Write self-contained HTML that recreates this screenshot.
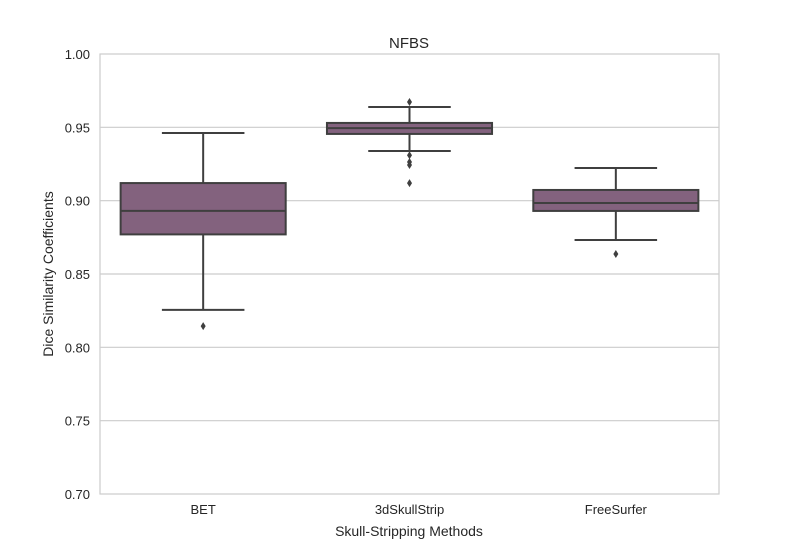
<!DOCTYPE html>
<html><head><meta charset="utf-8"><style>
body{margin:0;background:#fff;}
svg text{font-family:"Liberation Sans",sans-serif;fill:#262626;}
</style></head><body>
<svg id="chart" width="800" height="550">
<rect x="100" y="54" width="619" height="440" fill="#fff" stroke="#cccccc" stroke-width="1.2"/>
<g id="grid"></g>
<g id="boxes"></g>
<text x="409" y="48" font-size="15" text-anchor="middle">NFBS</text>
<text x="409" y="536" font-size="14" text-anchor="middle">Skull-Stripping Methods</text>
<text transform="translate(53,274) rotate(-90)" font-size="14" text-anchor="middle">Dice Similarity Coefficients</text>
</svg>
<script>
const categories=["BET","3dSkullStrip","FreeSurfer"];
const whiskerLow=[0.8255,0.9339,0.8732];
const q1=[0.877,0.9455,0.893];
const medians=[0.893,0.9495,0.8984];
const q3=[0.912,0.953,0.9073];
const whiskerHigh=[0.9461,0.9639,0.9223];
const outliers=[[0.8145],[0.9673,0.931,0.9264,0.9243,0.912],[0.8636]];
const yTicks=[0.70,0.75,0.80,0.85,0.90,0.95,1.00];
const NS="http://www.w3.org/2000/svg";
const y0=494,y1=54,vmin=0.7,vmax=1.0,x0=100,x1=719;
const yS=v=>y0-(v-vmin)/(vmax-vmin)*(y0-y1);
const band=(x1-x0)/categories.length;
const xS=i=>x0+band*(i+0.5);
function mk(tag,attrs,parent){const e=document.createElementNS(NS,tag);for(const k in attrs)e.setAttribute(k,attrs[k]);parent.appendChild(e);return e;}
const grid=document.getElementById('grid');
yTicks.forEach(t=>{
  const y=yS(t);
  if(t>vmin&&t<vmax){const l=mk('line',{x1:x0,x2:x1,y1:y,y2:y,stroke:'#cccccc','stroke-width':1.2},grid);
  
  }
  const tx=mk('text',{x:90,y:y+5,'font-size':13,'text-anchor':'end'},grid);
  tx.textContent=t.toFixed(2);
  
  
});
const g=document.getElementById('boxes');
const bw=band*0.8;
const c='#3f3f3f';
categories.forEach((cat,i)=>{
  const cx=xS(i);
  const grp=mk('g',{},g);
  
  
  mk('line',{x1:cx,x2:cx,y1:yS(whiskerHigh[i]),y2:yS(q3[i]),stroke:c,'stroke-width':2},grp);
  mk('line',{x1:cx,x2:cx,y1:yS(q1[i]),y2:yS(whiskerLow[i]),stroke:c,'stroke-width':2},grp);
  mk('line',{x1:cx-bw/4,x2:cx+bw/4,y1:yS(whiskerHigh[i]),y2:yS(whiskerHigh[i]),stroke:c,'stroke-width':2},grp);
  mk('line',{x1:cx-bw/4,x2:cx+bw/4,y1:yS(whiskerLow[i]),y2:yS(whiskerLow[i]),stroke:c,'stroke-width':2},grp);
  mk('rect',{x:cx-bw/2,y:yS(q3[i]),width:bw,height:yS(q1[i])-yS(q3[i]),fill:'#83627e',stroke:c,'stroke-width':2},grp);
  mk('line',{x1:cx-bw/2,x2:cx+bw/2,y1:yS(medians[i]),y2:yS(medians[i]),stroke:c,'stroke-width':2},grp);
  outliers[i].forEach(v=>{
    const y=yS(v);
    const p=mk('polygon',{points:`${cx},${y-4} ${cx+2.5},${y} ${cx},${y+4} ${cx-2.5},${y}`,fill:c},grp);
    
    
  });
  const t=mk('text',{x:cx,y:514,'font-size':13,'text-anchor':'middle'},g);
  t.textContent=cat;
  
  
});
</script>
</body></html>
